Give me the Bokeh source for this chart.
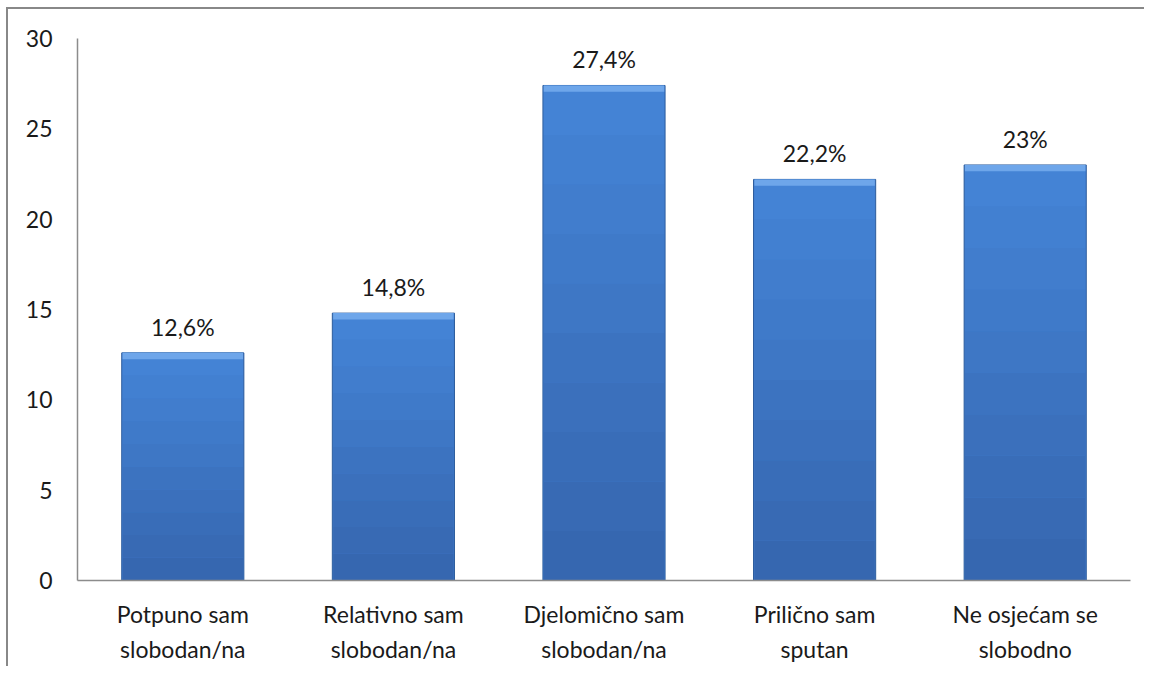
from bokeh.plotting import figure
from bokeh.models import ColumnDataSource, FactorRange, Range1d, FixedTicker, LabelSet
from bokeh.core.properties import value
from bokeh.embed import file_html
from bokeh.resources import INLINE

categories = ["Potpuno sam\nslobodan/na", "Relativno sam\nslobodan/na", "Djelomično sam\nslobodan/na",
              "Prilično sam\nsputan", "Ne osjećam se\nslobodno"]
values = [12.6, 14.8, 27.4, 22.2, 23.0]
labels = ["12,6%", "14,8%", "27,4%", "22,2%", "23%"]
y_ticks = [0, 5, 10, 15, 20, 25, 30]

FONT = "Lato"

src = ColumnDataSource(dict(x=categories, top=values, lab=labels,
                            bev=[v - 0.35 for v in values]))

p = figure(width=1138, height=659, x_range=FactorRange(*categories, range_padding=0),
           y_range=Range1d(0, 30), output_backend="svg", toolbar_location=None,
           min_border_left=69, min_border_top=29, min_border_right=16, min_border_bottom=88,
           styles={"border-left": "2px solid #888888", "border-top": "2px solid #888888",
                   "margin-left": "6px", "margin-top": "7px"})

# base bar with outline
p.vbar(x="x", top="top", width=0.58, source=src, fill_color="#3f7bcc",
       line_color="#2d5c9c", line_width=1)

# vertical shading bands (darker towards the bottom), fractions of each bar height
bottom_rgb = (0x36, 0x66, 0xAE)
top_rgb = (0x45, 0x85, 0xD8)
n = 10
for i in range(n):
    t = (i + 0.5) / n
    col = "#%02x%02x%02x" % tuple(int(b + (a - b) * t) for a, b in zip(top_rgb, bottom_rgb))
    p.vbar(x=categories, bottom=[v * i / n for v in values], top=[v * (i + 1) / n for v in values],
           width=0.572, fill_color=col, line_color=None)

# light bevel at the top
p.vbar(x="x", bottom="bev", top="top", width=0.572, source=src, fill_color="#6ea6ea",
       line_color=None)

p.add_layout(LabelSet(x="x", y="top", text="lab", source=src, text_align="center",
                      text_baseline="bottom", y_offset=12, text_font=value(FONT),
                      text_font_size="23px", text_color="#1a1a1a"))

p.xgrid.visible = False
p.ygrid.visible = False
p.outline_line_color = None

for ax in (p.xaxis[0], p.yaxis[0]):
    ax.axis_line_color = "#8c8c8c"
    ax.axis_line_width = 1.5
    ax.major_tick_line_color = None
    ax.minor_tick_line_color = None
    ax.major_label_text_font = FONT
    ax.major_label_text_font_size = "23px"
    ax.major_label_text_color = "#1a1a1a"

p.yaxis[0].ticker = FixedTicker(ticks=y_ticks)
p.yaxis[0].major_label_standoff = 19
p.xaxis[0].major_label_standoff = 13
p.xaxis[0].major_label_text_line_height = 1.25

open("out.html", "w").write(file_html(p, INLINE))
